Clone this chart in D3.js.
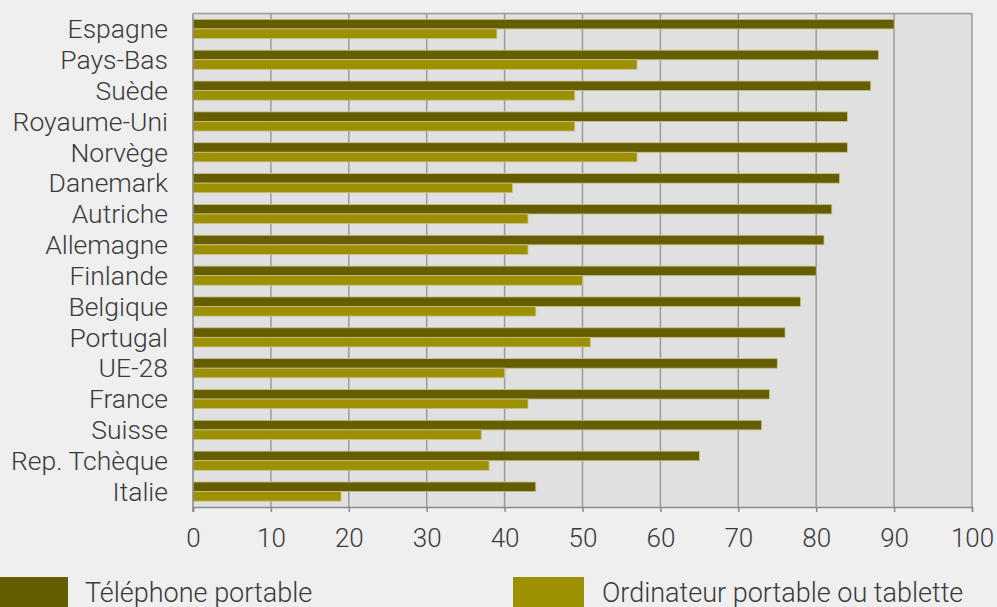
<!DOCTYPE html>
<html>
<head>
<meta charset="utf-8">
<script src="https://cdn.jsdelivr.net/npm/d3@7"></script>
<style>
  html, body { margin: 0; padding: 0; background: #efefef; }
  svg { display: block; }
  text { font-family: Roboto, "Noto Sans", sans-serif; font-weight: 300; fill: #3a3a3a; }
</style>
</head>
<body>
<svg id="chart" width="997" height="607"></svg>
<script>
// Countries, top to bottom
const countries = ["Espagne", "Pays-Bas", "Suède", "Royaume-Uni", "Norvège", "Danemark",
  "Autriche", "Allemagne", "Finlande", "Belgique", "Portugal", "UE-28", "France",
  "Suisse", "Rep. Tchèque", "Italie"];
// Share of users (%) per device
const telephone = [90, 88, 87, 84, 84, 83, 82, 81, 80, 78, 76, 75, 74, 73, 65, 44];
const ordinateur = [39, 57, 49, 49, 57, 41, 43, 43, 50, 44, 51, 40, 43, 37, 38, 19];
const seriesNames = ["Téléphone portable", "Ordinateur portable ou tablette"];
const xTicks = [0, 10, 20, 30, 40, 50, 60, 70, 80, 90, 100];

const colors = ["#655e01", "#9c8f00"];
const svg = d3.select("#chart");
const m = { left: 193, right: 972, top: 13.5, bottom: 507 };

const x = d3.scaleLinear().domain([0, 100]).range([m.left, m.right]);
const y = d3.scaleBand().domain(countries).range([m.top, m.bottom])
  .paddingInner(0.38).paddingOuter(0.19);
const sub = d3.scaleBand().domain([0, 1]).range([0, y.bandwidth()]);

// Plot background
svg.append("rect")
  .attr("x", m.left).attr("y", m.top)
  .attr("width", m.right - m.left).attr("height", m.bottom - m.top)
  .attr("fill", "#e0e0e0");

// Vertical grid lines
svg.append("g").selectAll("line").data(xTicks.slice(1)).join("line")
  .attr("x1", d => x(d)).attr("x2", d => x(d))
  .attr("y1", m.top).attr("y2", m.bottom)
  .attr("stroke", "#9a9a9a").attr("stroke-width", 1.5);
// top border
svg.append("line").attr("x1", m.left).attr("x2", m.right)
  .attr("y1", m.top).attr("y2", m.top)
  .attr("stroke", "#9a9a9a").attr("stroke-width", 1.5);

// Bars
const rows = countries.map((c, i) => ({ c, vals: [telephone[i], ordinateur[i]] }));
const groups = svg.append("g").selectAll("g").data(rows).join("g")
  .attr("transform", d => `translate(0,${y(d.c)})`);
groups.selectAll("rect").data(d => d.vals.map((v, k) => ({ v, k }))).join("rect")
  .attr("x", x(0))
  .attr("y", d => sub(d.k))
  .attr("width", d => x(d.v) - x(0))
  .attr("height", sub.bandwidth())
  .attr("fill", d => colors[d.k])
  .attr("stroke", "#c9c28a").attr("stroke-width", 0.8);

// X axis
const xAxis = svg.append("g")
  .attr("transform", `translate(0,${m.bottom})`)
  .call(d3.axisBottom(x).tickValues(xTicks).tickSize(5).tickPadding(17));
xAxis.select(".domain").attr("stroke", "#8a8a8a").attr("stroke-width", 1.5);
xAxis.selectAll(".tick line").attr("stroke", "#8a8a8a").attr("stroke-width", 1.5);
xAxis.selectAll("text").attr("font-size", 26).attr("fill", "#3a3a3a")
  .style("font-family", "Roboto, sans-serif").style("font-weight", 300);

// Left axis line
svg.append("line").attr("x1", m.left).attr("x2", m.left)
  .attr("y1", m.top).attr("y2", m.bottom + 5)
  .attr("stroke", "#8a8a8a").attr("stroke-width", 1.5);

// Category labels
svg.append("g").selectAll("text").data(countries).join("text")
  .attr("x", 168)
  .attr("y", d => y(d) + y.bandwidth() / 2)
  .attr("dy", "0.35em")
  .attr("text-anchor", "end")
  .attr("font-size", 26.5)
  .text(d => d);

// Legend
const legendX = [0, 513];
const legend = svg.append("g").selectAll("g").data(seriesNames).join("g")
  .attr("transform", (d, i) => `translate(${legendX[i]},577)`);
legend.append("rect").attr("width", (d, i) => i === 0 ? 68 : 71).attr("height", 32)
  .attr("fill", (d, i) => colors[i]);
legend.append("text").attr("x", (d, i) => i === 0 ? 85 : 89).attr("y", 25)
  .attr("font-size", 27).text(d => d);
</script>
</body>
</html>
